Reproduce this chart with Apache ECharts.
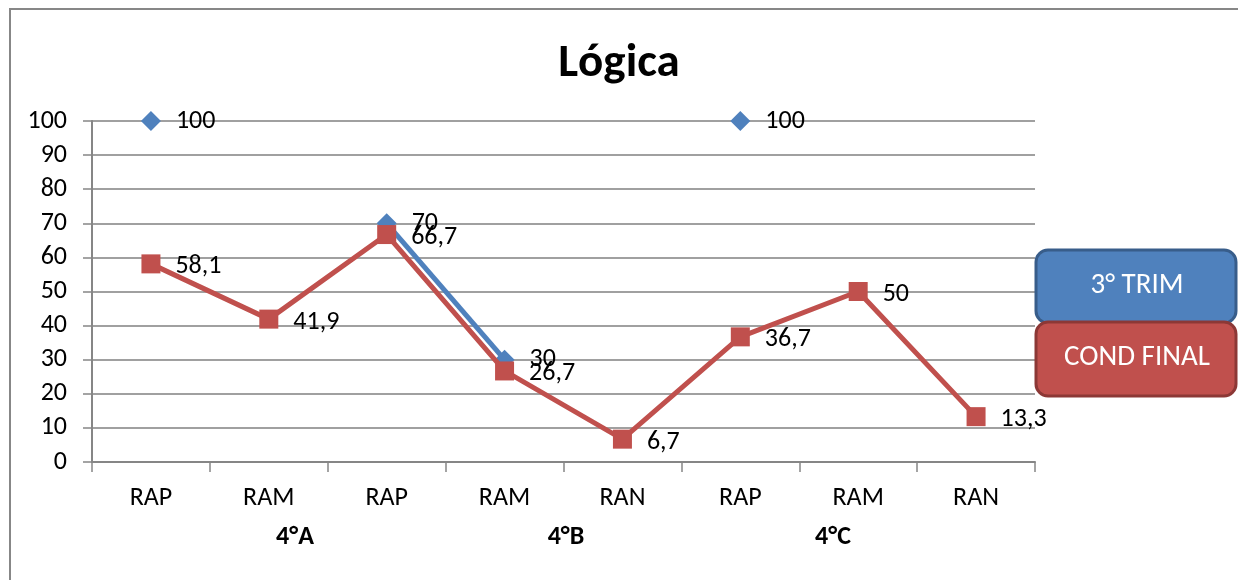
<!DOCTYPE html>
<html>
<head>
<meta charset="utf-8">
<script src="https://cdn.jsdelivr.net/npm/echarts@6/dist/echarts.min.js"></script>
<style>html,body{margin:0;padding:0;background:#fff}#c{width:1238px;height:580px}</style>
</head>
<body>
<div id="c"></div>
<script>
const title = 'Lógica';
const categories = ['RAP', 'RAM', 'RAP', 'RAM', 'RAN', 'RAP', 'RAM', 'RAN'];
const groups = ['4°A', '4°B', '4°C'];
const seriesNames = ['3° TRIM', 'COND FINAL'];
const trim3 = [100, null, 70, 30, null, 100, null, null];
const condFinal = [58.1, 41.9, 66.7, 26.7, 6.7, 36.7, 50, 13.3];
const yTicks = [0, 10, 20, 30, 40, 50, 60, 70, 80, 90, 100];

const FONT = 'Carlito, Lato, "Open Sans", sans-serif';
const chart = echarts.init(document.getElementById('c'));
const fmt = p => String(p.value).replace('.', ',');

const labelStyle = {
  show: true, position: 'right', distance: 15,
  color: '#000', fontSize: 26, fontFamily: FONT, formatter: fmt
};

chart.setOption({
  animation: false,
  backgroundColor: '#fff',
  title: {
    text: title, left: 'center', top: 36,
    textStyle: { fontSize: 47, fontWeight: 'bold', color: '#000', fontFamily: FONT }
  },
  grid: { left: 92, right: 203, top: 121, bottom: 118, containLabel: false },
  xAxis: {
    type: 'category', data: categories, boundaryGap: true,
    axisLine: { lineStyle: { color: '#868686', width: 2 } },
    axisTick: { show: true, length: 10, alignWithLabel: false, lineStyle: { color: '#868686', width: 1.5 } },
    axisLabel: { color: '#000', fontSize: 26, fontFamily: FONT, margin: 23 }
  },
  yAxis: {
    type: 'value', min: yTicks[0], max: yTicks[yTicks.length - 1], interval: 10,
    axisLine: { show: true, lineStyle: { color: '#868686', width: 2 } },
    axisTick: { show: true, length: 9, lineStyle: { color: '#868686', width: 1.5 } },
    axisLabel: { color: '#000', fontSize: 26, fontFamily: FONT, margin: 25 },
    splitLine: { show: true, lineStyle: { color: '#a0a0a0', width: 2 } }
  },
  series: [
    {
      name: seriesNames[0], type: 'line', data: trim3, connectNulls: false,
      symbol: 'diamond', symbolSize: 20, z: 2,
      itemStyle: { color: '#4F81BD' },
      lineStyle: { color: '#4F81BD', width: 5 },
      label: labelStyle
    },
    {
      name: seriesNames[1], type: 'line', data: condFinal,
      symbol: 'rect', symbolSize: 19, z: 3,
      itemStyle: { color: '#C0504D' },
      lineStyle: { color: '#C0504D', width: 5 },
      label: Object.assign({}, labelStyle, { offset: [0, 3] })
    }
  ],
  graphic: [
    { type: 'rect', shape: { x: 10, y: 9, width: 1260, height: 620 }, style: { fill: 'none', stroke: '#878787', lineWidth: 2 }, silent: true, z: -1 },
    { type: 'text', x: 295, y: 537, style: { text: groups[0], fontSize: 26, fontWeight: 'bold', fontFamily: FONT, fill: '#000', align: 'center', verticalAlign: 'middle' } },
    { type: 'text', x: 566, y: 537, style: { text: groups[1], fontSize: 26, fontWeight: 'bold', fontFamily: FONT, fill: '#000', align: 'center', verticalAlign: 'middle' } },
    { type: 'text', x: 833, y: 537, style: { text: groups[2], fontSize: 26, fontWeight: 'bold', fontFamily: FONT, fill: '#000', align: 'center', verticalAlign: 'middle' } },
    { type: 'rect', shape: { x: 1036, y: 250, width: 200, height: 73, r: 12 }, style: { fill: '#4F81BD', stroke: '#385D8A', lineWidth: 3 }, z: 10 },
    { type: 'text', x: 1137, y: 286, style: { text: seriesNames[0], fontSize: 29, fontFamily: FONT, fill: '#fff', align: 'center', verticalAlign: 'middle' }, z: 11 },
    { type: 'rect', shape: { x: 1036, y: 322, width: 200, height: 74, r: 12 }, style: { fill: '#C0504D', stroke: '#8C3836', lineWidth: 3 }, z: 10 },
    { type: 'text', x: 1137, y: 358, style: { text: seriesNames[1], fontSize: 29, fontFamily: FONT, fill: '#fff', align: 'center', verticalAlign: 'middle' }, z: 11 }
  ]
});
</script>
</body>
</html>
